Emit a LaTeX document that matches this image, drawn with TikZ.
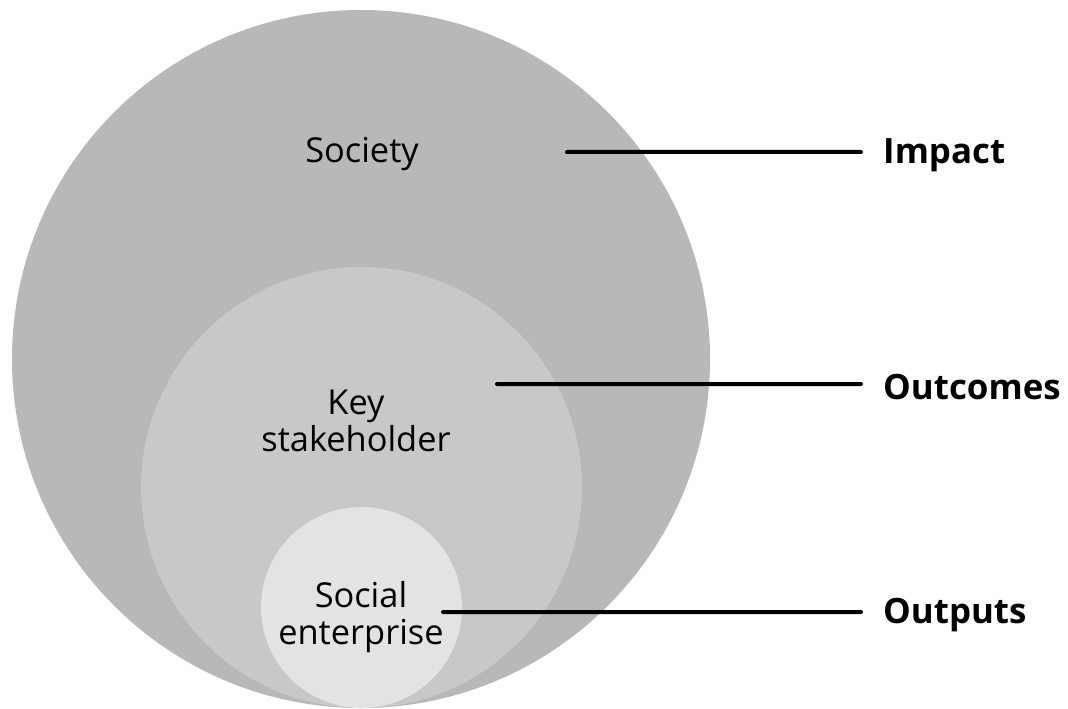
\documentclass[tikz,border=0pt]{standalone}
\usepackage{fontspec}
\setmainfont{Open Sans}
\definecolor{outerc}{HTML}{B8B8B8}
\definecolor{midc}{HTML}{C8C8C8}
\definecolor{innerc}{HTML}{E3E3E3}
\begin{document}
\begin{tikzpicture}[x=1bp,y=-1bp,
  ring/.style={circle,draw=none,inner sep=0pt},
  circtext/.style={align=center,font=\fontsize{34.5}{36.8}\selectfont,inner sep=0pt},
  label/.style={anchor=west,font=\fontsize{35}{37}\selectfont\bfseries,inner sep=0pt},
  leader/.style={line width=4bp,line cap=round}]
\useasboundingbox (0,0) rectangle (1068,709);
\node[ring,fill=outerc,minimum size=698bp] (outer) at (361,359) {};
\node[ring,fill=midc,minimum size=441bp] (mid) at (361.5,487.5) {};
\node[ring,fill=innerc,minimum size=201bp] (inner) at (361.5,607.5) {};
\node[circtext] (society) at (362,154) {Society};
\node[circtext] (key) at (356,421) {Key\\stakeholder};
\node[circtext] (se) at (361,617) {Social\\enterprise};
\coordinate (l1) at (567,152);
\coordinate (l2) at (497,384);
\coordinate (l3) at (443,612);
\node[label] (impact) at (883,155) {Impact};
\node[label] (outcomes) at (883,387) {Outcomes};
\node[label] (outputs) at (883,615) {Outputs};
\draw[leader] (l1) -- ([xshift=-22bp,yshift=3bp]impact.west);
\draw[leader] (l2) -- ([xshift=-22bp,yshift=3bp]outcomes.west);
\draw[leader] (l3) -- ([xshift=-22bp,yshift=3bp]outputs.west);
\end{tikzpicture}
\end{document}
